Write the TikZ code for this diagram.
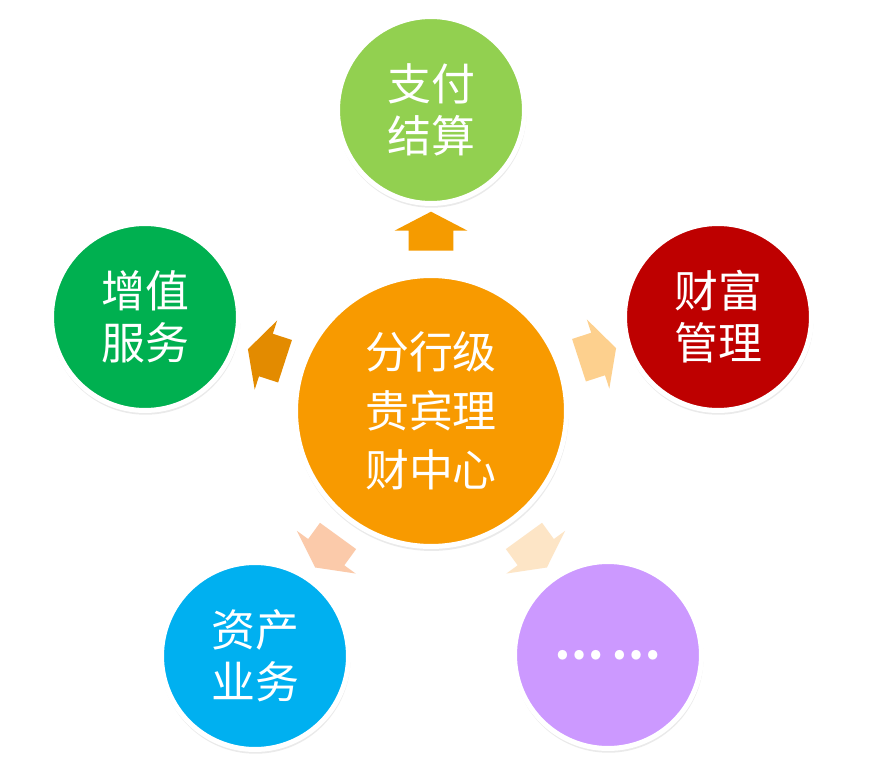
\documentclass[tikz,border=0pt]{standalone}
\usepackage{fontspec}
\newfontfamily\cjk{Noto Sans CJK SC}
\usetikzlibrary{shapes.arrows}
\usetikzlibrary{shadows}

\definecolor{huborange}{HTML}{F89A00}
\definecolor{paygreen}{HTML}{92D050}
\definecolor{wealthred}{HTML}{BE0000}
\definecolor{valuegreen}{HTML}{00B050}
\definecolor{assetblue}{HTML}{00B0F0}
\definecolor{morepurple}{HTML}{CC99FF}
\definecolor{arrowtop}{HTML}{F59B00}
\definecolor{arrowleft}{HTML}{E38B00}
\definecolor{arrowright}{HTML}{FDD08E}
\definecolor{arrowbl}{HTML}{FBCAAA}
\definecolor{arrowbr}{HTML}{FDE5C6}

\begin{document}
\begin{tikzpicture}[x=0.02cm,y=-0.02cm,
  hub/.style={circle,draw=white,line width=0.1cm,fill=huborange,minimum size=5.42cm,inner sep=0pt,
    text=white,align=center,font=\cjk\fontsize{25}{33.6}\selectfont,
    drop shadow={opacity=0.16,shadow xshift=0.3pt,shadow yshift=-1.6pt,shadow scale=1.012}},
  sat/.style={circle,draw=white,line width=0.1cm,minimum size=3.74cm,inner sep=0pt,
    text=white,align=center,font=\cjk\fontsize{25}{29.6}\selectfont,
    drop shadow={opacity=0.16,shadow xshift=0.3pt,shadow yshift=-1.6pt,shadow scale=1.015}},
  blockarrow/.style={single arrow,inner xsep=0pt,inner ysep=0.44cm,minimum height=0.78cm,
    single arrow head extend=0.28cm,single arrow tip angle=125}]
  \useasboundingbox[fill=white] (0,0) rectangle (888,763);

  \node[hub] (hub) at (431,411) {分行级\\贵宾理\\财中心};

  \node[sat,fill=paygreen] (pay) at (431,110) {支付\\结算};
  \node[sat,fill=wealthred] (wealth) at (718,317) {财富\\管理};
  \node[sat,fill=valuegreen] (value) at (145,317) {增值\\服务};
  \node[sat,fill=assetblue] (asset) at (255,656) {资产\\业务};
  \node[sat,fill=morepurple] (more) at (608,655) {\textbf{…\,…}};

  % arrows from the hub out to each circle
  \node[blockarrow,fill=arrowtop,rotate=90] (a1) at (431,237) {};
  \node[blockarrow,fill=arrowright,rotate=18] (a2) at (592,356) {};
  \node[blockarrow,fill=arrowleft,rotate=162] (a3) at (272,357) {};
  \node[blockarrow,fill=arrowbl,rotate=234] (a4) at (330,547) {};
  \node[blockarrow,fill=arrowbr,rotate=306] (a5) at (532,547) {};
\end{tikzpicture}
\end{document}
